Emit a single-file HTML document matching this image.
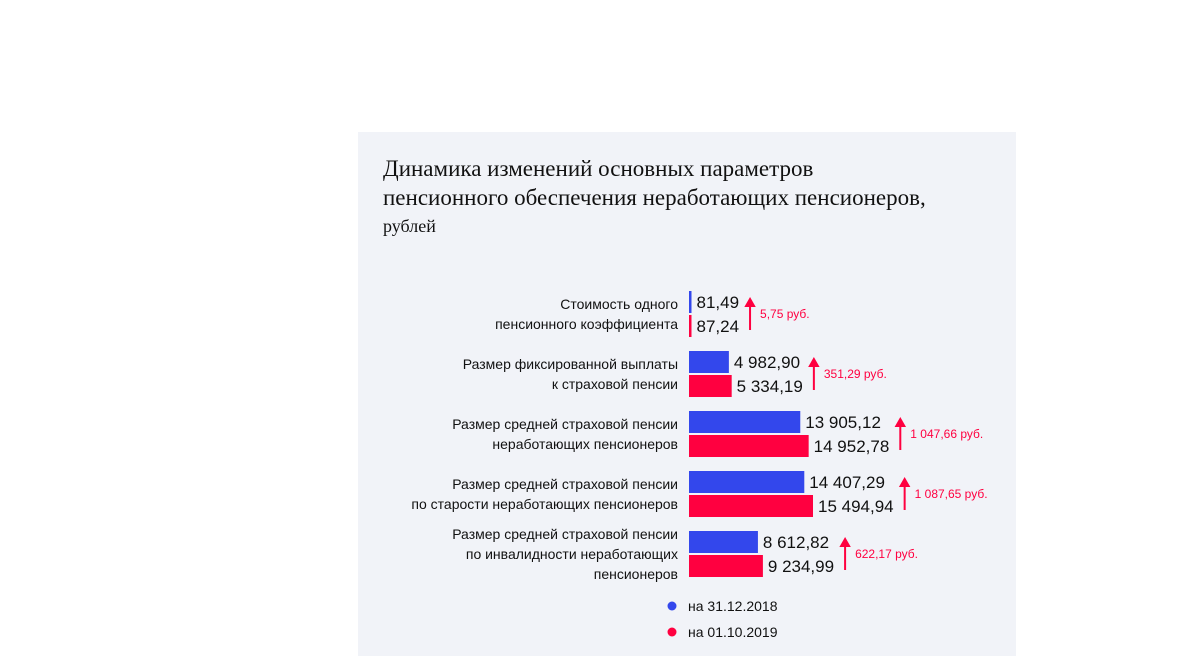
<!DOCTYPE html>
<html><head><meta charset="utf-8"><style>
body{margin:0;width:1200px;height:656px;background:#fff;overflow:hidden;font-family:"Liberation Sans",Arial,sans-serif}
#panel{position:absolute;left:358px;top:132px;width:658px;height:524px;background:#f1f3f8}
.t{position:absolute;left:25px;font-family:"Liberation Serif",serif;color:#111}
svg{position:absolute;left:0;top:0}
</style></head><body>
<div id="panel">
<div class="t" style="top:22px;font-size:23px;line-height:29px">Динамика изменений основных параметров<br>пенсионного обеспечения неработающих пенсионеров,</div>
<div class="t" style="top:84px;font-size:18px">рублей</div>
</div>
<svg id="chart" width="1200" height="656"></svg>
<script>
const categories=[["Стоимость одного","пенсионного коэффициента"],["Размер фиксированной выплаты","к страховой пенсии"],["Размер средней страховой пенсии","неработающих пенсионеров"],["Размер средней страховой пенсии","по старости неработающих пенсионеров"],["Размер средней страховой пенсии","по инвалидности неработающих","пенсионеров"]];
const values2018=[81.49,4982.90,13905.12,14407.29,8612.82];
const values2019=[87.24,5334.19,14952.78,15494.94,9234.99];
const seriesNames=["на 31.12.2018","на 01.10.2019"];
const colors=["#3347ec","#ff0040"];
const NS="http://www.w3.org/2000/svg";
const svg=document.getElementById('chart');
const x0=689,scale=124/15494.94;
const xw=v=>Math.max(2.5,v*scale);
const groupY=i=>291+i*60;
const fmt=v=>{let [a,b]=v.toFixed(2).split('.');a=a.replace(/\B(?=(\d{3})+(?!\d))/g,' ');return a+','+b;};
function mk(tag,attrs,txt){const e=document.createElementNS(NS,tag);for(const k in attrs)e.setAttribute(k,attrs[k]);if(txt!=null)e.textContent=txt;svg.appendChild(e);return e;}
categories.forEach((cat,i)=>{
  const gy=groupY(i);
  let maxEnd=0;
  [values2018[i],values2019[i]].forEach((v,s)=>{
    const y=gy+s*24;
    const r=mk('rect',{x:x0,y:y,width:xw(v),height:22,fill:colors[s]});
    
    
    const t=mk('text',{x:x0+xw(v)+5,y:y+17,'font-size':17,fill:'#111'},fmt(v));
    
    
    maxEnd=Math.max(maxEnd,x0+xw(v)+5+t.getComputedTextLength());
  });
  const ax=maxEnd+11,cy=gy+23;
  const ar=mk('path',{d:`M${ax} ${cy+16}V${cy-12}M${ax-4} ${cy-8}L${ax} ${cy-15}L${ax+4} ${cy-8}Z`,stroke:colors[1],'stroke-width':2,fill:colors[1]});
  
  
  const d=mk('text',{x:ax+10,y:cy+4,'font-size':12,fill:colors[1]},fmt(values2019[i]-values2018[i])+' руб.');
  
  
  const n=cat.length,lh=20,start=cy-(n-1)*lh/2+5;
  cat.forEach((line,k)=>{
    const c=mk('text',{x:678,y:start+k*lh,'font-size':14,fill:'#111','text-anchor':'end'},line);
    
    
  });
});
seriesNames.forEach((nm,s)=>{
  const y=606+s*26;
  const c=mk('circle',{cx:672,cy:y,r:4.5,fill:colors[s]});
  
  
  const t=mk('text',{x:688,y:y+5,'font-size':14,fill:'#111'},nm);
  
  
});
</script>
</body></html>
